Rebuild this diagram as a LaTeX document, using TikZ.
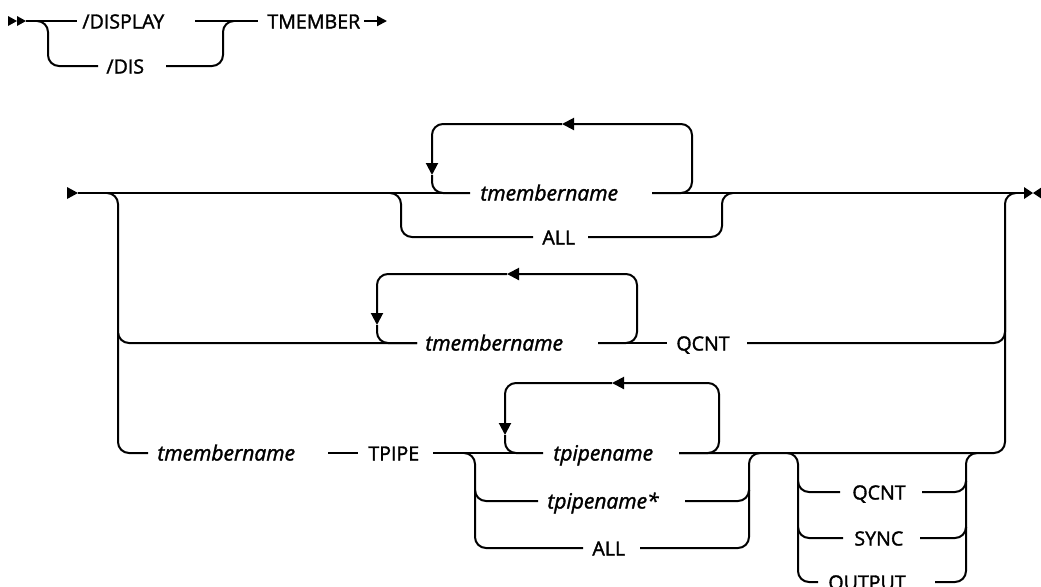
\documentclass[tikz,border=0pt]{standalone}
\usepackage{fontspec}
\setmainfont{Open Sans}[FakeBold=1.6]
\usetikzlibrary{arrows.meta}
\tikzset{
  rail/.style={line width=1pt, rounded corners=5.5pt},
  back/.style={rail, -{Triangle[length=6pt,width=6pt]}},
  kw/.style={anchor=west, inner xsep=0pt, inner ysep=0pt,
             font=\fontsize{9.8}{11}\selectfont, text height=1.6ex, text depth=0.2ex},
  var/.style={kw, font=\fontsize{10.5}{12}\selectfont\itshape}
}

\begin{document}
\begin{tikzpicture}[x=0.5pt,y=-0.5pt]
  \useasboundingbox (0,0) rectangle (1041,586);
  % command: /DISPLAY TMEMBER
  \foreach \x in {8,17} \fill (\x,16) -- ++(9,5) -- ++(-9,5) -- cycle;
  \node[kw] (disp) at (82,21) {/DISPLAY};
  \node[kw] (dis) at (106,66) {/DIS};
  \node[kw] (tmem) at (267,21) {TMEMBER};
  \draw[rail] (26,21) -- (77,21);
  \draw[rail] (195,21) -- (258,21);
  \draw[rail] (38,21) -- (48,21) -- (48,66) -- (98,66);
  \draw[rail] (166,66) -- (223,66) -- (223,21) -- (233,21);
  \draw[line width=1pt, -{Triangle[length=5pt,width=5pt]}] (364,21) -- (387,21);

  % operands
  \fill (67,187) -- (78,193) -- (67,199) -- cycle;
  \fill (1024,187) -- (1033,193) -- (1024,199) -- cycle;
  \fill (1042,187) -- (1033,193) -- (1042,199) -- cycle;
  \draw[rail] (78,193) -- (470,193);
  \draw[rail] (652,193) -- (1024,193);

  % row 1: tmembername ... | ALL
  \node[var] (tm1) at (480,193) {tmembername};
  \node[kw] (all1) at (542,237) {ALL};
  \draw[rail] (390,193) -- (401,193) -- (401,237) -- (533,237);
  \draw[rail] (588,237) -- (722,237) -- (722,193) -- (732,193);
  \draw[back] (652,193) -- (692,193) -- (692,124) -- (562,124);
  \draw[back] (562,124) -- (432,124) -- (432,175);
  \draw[rail] (432,175) -- (432,193) -- (470,193);

  % row 2: tmembername ... QCNT
  \node[var] (tm2) at (425,343) {tmembername};
  \node[kw] (qc2) at (676,343) {QCNT};
  \draw[rail] (108,193) -- (118,193) -- (118,343) -- (417,343);
  \draw[rail] (598,343) -- (667,343);
  \draw[rail] (747,343) -- (1005,343) -- (1005,193) -- (1015,193);
  \draw[back] (598,343) -- (637,343) -- (637,274) -- (507,274);
  \draw[back] (507,274) -- (377,274) -- (377,325);
  \draw[rail] (377,325) -- (377,343) -- (417,343);

  % row 3: tmembername TPIPE ...
  \node[var] (tm3) at (157,453) {tmembername};
  \node[kw] (tpipe) at (368,453) {TPIPE};
  \draw[rail] (118,333) -- (118,453) -- (148,453);
  \draw[rail] (328,453) -- (358,453);
  \draw[rail] (433,453) -- (543,453);
  \draw[rail] (679,453) -- (1005,453) -- (1005,300);

  % tpipename choices
  \node[var] (tp1) at (553,453) {tpipename};
  \node[var] (tp2) at (547,501) {tpipename*};
  \node[kw] (all3) at (592,548) {ALL};
  \draw[rail] (465,453) -- (475,453) -- (475,548) -- (583,548);
  \draw[rail] (475,491) -- (475,501) -- (538,501);
  \draw[rail] (685,501) -- (749,501) -- (749,491);
  \draw[rail] (640,548) -- (749,548) -- (749,453) -- (759,453);
  \draw[back] (679,453) -- (719,453) -- (719,383) -- (612,383);
  \draw[back] (612,383) -- (505,383) -- (505,435);
  \draw[rail] (505,435) -- (505,453) -- (543,453);

  % optional QCNT | SYNC | OUTPUT
  \node[kw] (qc3) at (852,492) {QCNT};
  \node[kw] (sync) at (854,538) {SYNC};
  \node[kw] (outp) at (828,582) {OUTPUT};
  \draw[rail] (788,453) -- (798,453) -- (798,582) -- (818,582);
  \draw[rail] (798,482) -- (798,492) -- (840,492);
  \draw[rail] (798,528) -- (798,538) -- (843,538);
  \draw[rail] (922,492) -- (966,492) -- (966,482);
  \draw[rail] (920,538) -- (966,538) -- (966,528);
  \draw[rail] (935,582) -- (966,582) -- (966,453) -- (976,453);
\end{tikzpicture}
\end{document}
